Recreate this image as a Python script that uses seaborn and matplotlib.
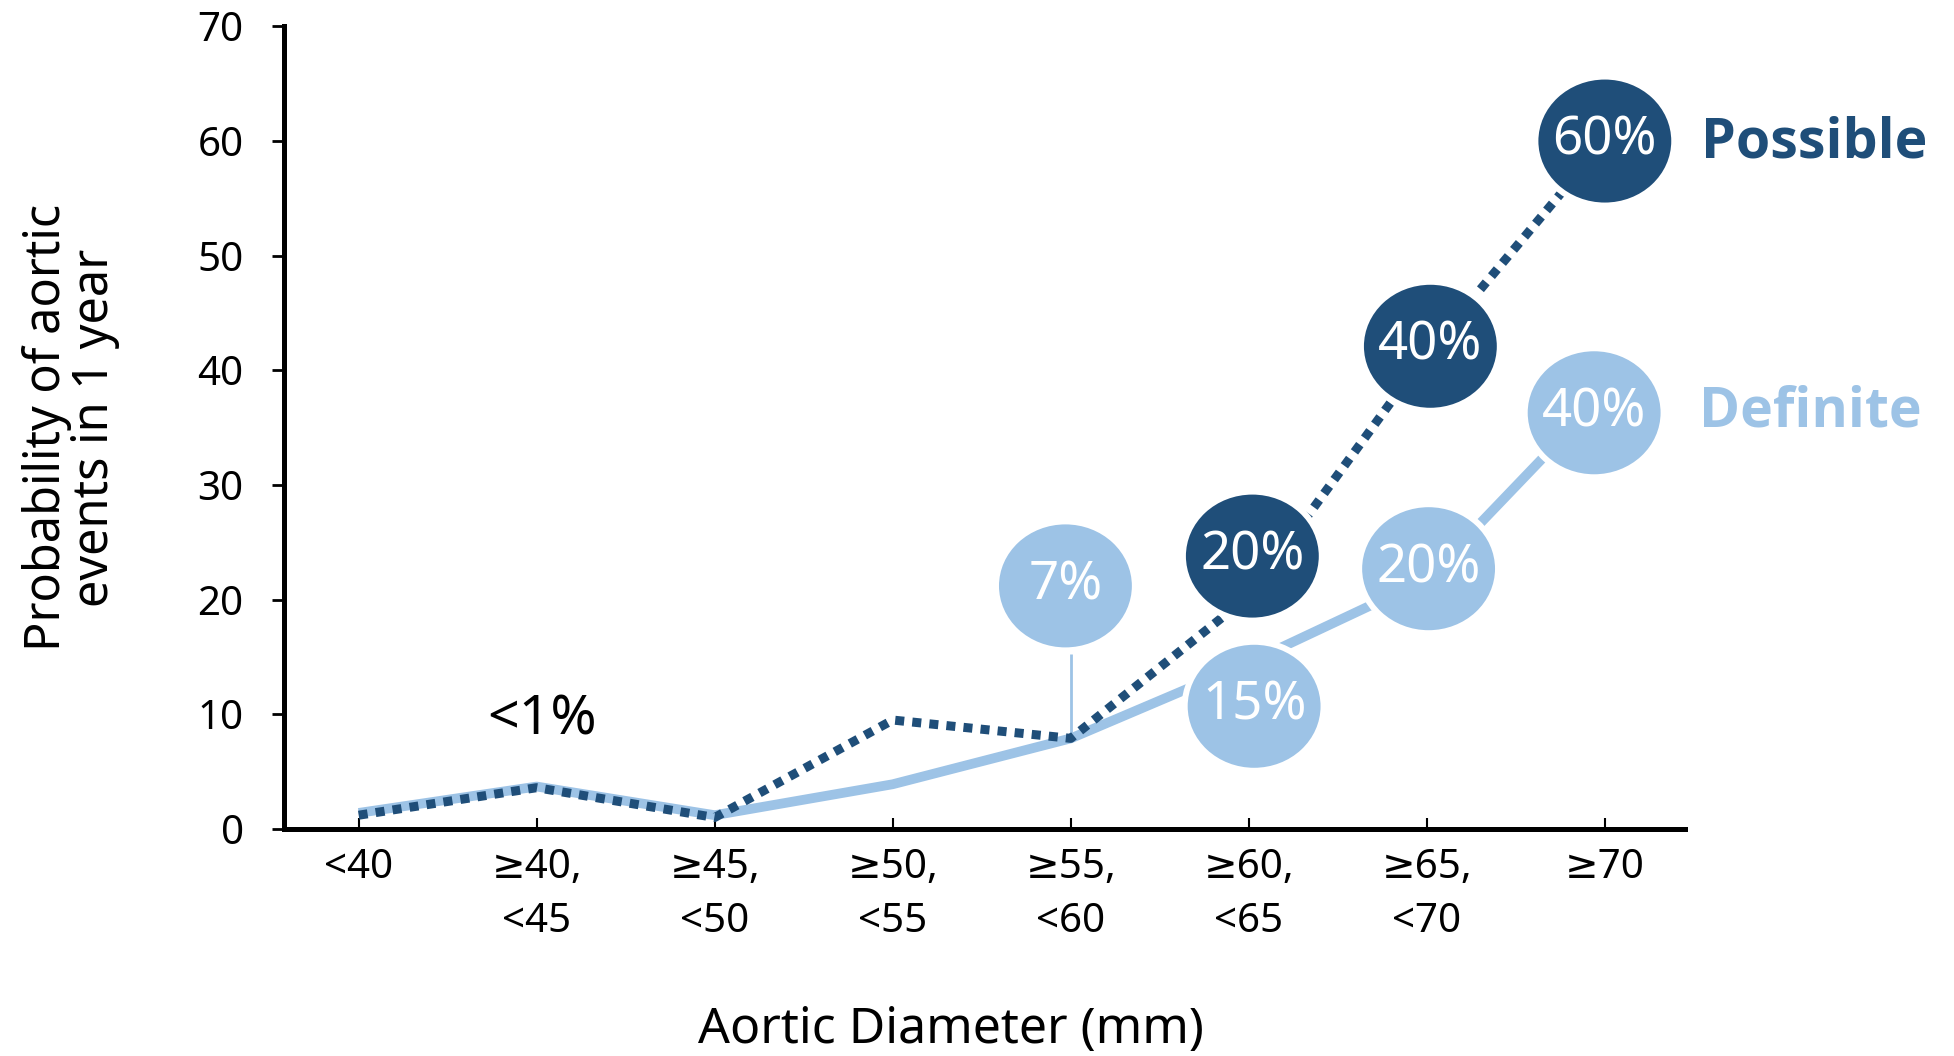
import numpy as np
import pandas as pd
import matplotlib
matplotlib.use("Agg")
import matplotlib.pyplot as plt
import seaborn as sns
from matplotlib.patches import Ellipse
from matplotlib import font_manager

# ---------------- data ----------------
categories = ["<40", "≥40,\n<45", "≥45,\n<50", "≥50,\n<55", "≥55,\n<60",
              "≥60,\n<65", "≥65,\n<70", "≥70"]
possible = [1.2, 3.6, 1.0, 9.5, 7.9, 20.3, 41.5, 60.0]
definite = [1.4, 3.7, 1.2, 3.9, 7.9, 14.5, 21.8, 38.0]

possible_labels = ["20%", "40%", "60%"]
possible_label_x = [5.02, 6.02, 7.0]
possible_label_y = [23.8, 42.1, 60.0]

definite_labels = ["7%", "15%", "20%", "40%"]
definite_label_x = [3.97, 5.03, 6.01, 6.94]
definite_label_y = [21.2, 10.7, 22.7, 36.3]

y_ticks = [0, 10, 20, 30, 40, 50, 60, 70]

DARK = "#1F4E79"
LIGHT = "#9DC3E6"

# ---------------- style ----------------
sns.set_theme(style="white")
plt.rcParams["font.family"] = ["Noto Sans", "DejaVu Sans"]

# pick a family that really has a bold face
bold_family = "DejaVu Sans"
for fam in ["Open Sans", "Noto Sans", "Lato", "Roboto"]:
    try:
        fp = font_manager.findfont(font_manager.FontProperties(family=fam, weight="bold"),
                                   fallback_to_default=False)
        if "bold" in fp.lower() and "semi" not in fp.lower():
            bold_family = fam
            break
    except Exception:
        pass

fig = plt.figure(figsize=(19.54, 10.56), dpi=100)
ax = fig.add_axes([0.1453, 0.215, 0.717, 0.760])

x = np.arange(len(categories))
df = pd.DataFrame({"x": np.concatenate([x, x]),
                   "value": definite + possible,
                   "series": ["Definite"] * len(x) + ["Possible"] * len(x)})

sns.lineplot(data=df[df.series == "Definite"], x="x", y="value", ax=ax,
             color=LIGHT, lw=7, solid_capstyle="butt", zorder=2)
sns.lineplot(data=df[df.series == "Possible"], x="x", y="value", ax=ax,
             color=DARK, lw=6.5, linestyle=(0, (1, 0.9)), zorder=3)

# ellipse sizes (data units)
EW, EH = 0.78, 11.25

# leader line for 7% bubble
ax.plot([x[4], x[4]], [definite[4], definite_label_y[0] - EH / 2 - 0.3],
        color=LIGHT, lw=2, zorder=2, solid_capstyle="butt")

for lbl, lx, ly in zip(definite_labels, definite_label_x, definite_label_y):
    ax.add_patch(Ellipse((lx, ly), EW, EH, facecolor=LIGHT, edgecolor="white",
                         lw=4.3, zorder=4))
    ax.text(lx, ly, lbl, ha="center", va="center", color="white",
            fontsize=38, zorder=5)
for lbl, lx, ly in zip(possible_labels, possible_label_x, possible_label_y):
    ax.add_patch(Ellipse((lx, ly), EW, EH, facecolor=DARK, edgecolor="white",
                         lw=4.3, zorder=4))
    ax.text(lx, ly, lbl, ha="center", va="center", color="white",
            fontsize=38, zorder=5)

ax.text(7.54, 59.8, "Possible", ha="left", va="center", fontsize=40,
        fontweight="bold", family=[bold_family, "DejaVu Sans"], color=DARK,
        clip_on=False)
ax.text(7.53, 36.4, "Definite", ha="left", va="center", fontsize=40,
        fontweight="bold", family=[bold_family, "DejaVu Sans"], color=LIGHT,
        clip_on=False)
ax.text(1.03, 9.5, "<1%", ha="center", va="center", fontsize=40, color="black")

# ---------------- axes ----------------
ax.set_xlim(-0.42, 7.45)
ax.set_ylim(0, 70)
ax.set_xticks(x)
ax.set_xticklabels(categories)
ax.set_yticks(y_ticks)
ax.set_yticklabels([str(v) for v in y_ticks])
for lbl in ax.get_xticklabels():
    lbl.set_linespacing(1.45)

for side in ["top", "right"]:
    ax.spines[side].set_visible(False)
for side in ["left", "bottom"]:
    ax.spines[side].set_color("black")
    ax.spines[side].set_linewidth(3.6)

ax.tick_params(axis="y", direction="out", length=9, width=2, labelsize=29,
               pad=20, colors="black", left=True)
ax.tick_params(axis="x", direction="in", length=8, width=1.5, labelsize=29,
               pad=14, colors="black", bottom=True)

ax.set_xlabel("Aortic Diameter (mm)", fontsize=36, color="black",
              va="center")
ax.xaxis.set_label_coords(0.476, -0.25)
ax.set_ylabel("Probability of aortic\nevents in 1 year", fontsize=35,
              color="black", va="center", ha="center", multialignment="center",
              linespacing=0.95)
ax.yaxis.set_label_coords(-0.152, 0.5)

fig.savefig("out.png", dpi=100)
